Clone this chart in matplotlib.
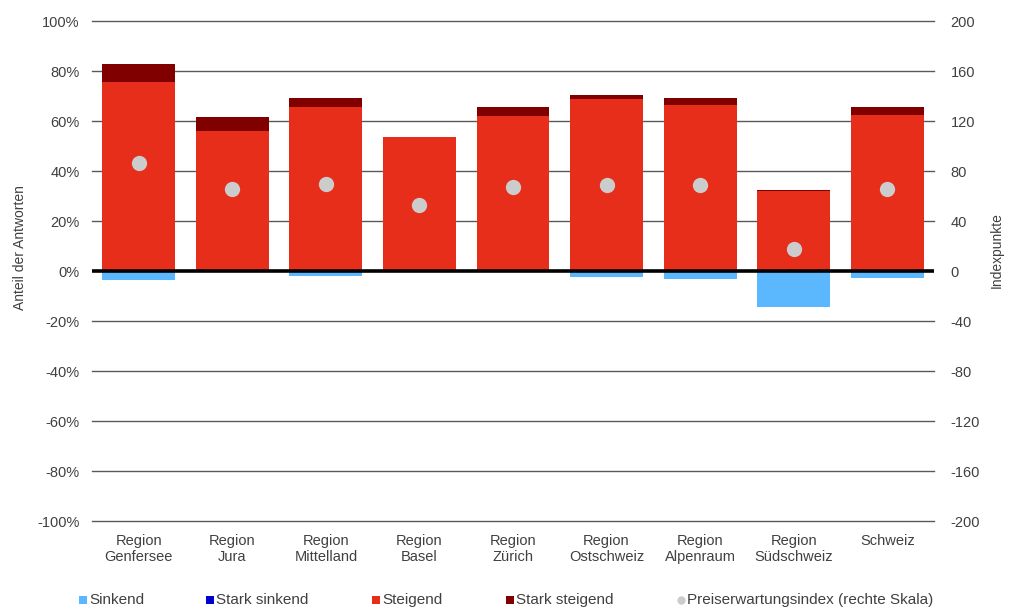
import numpy as np
import matplotlib.pyplot as plt
from matplotlib.lines import Line2D

plt.rcParams['font.family'] = ['Liberation Sans', 'DejaVu Sans']
plt.rcParams['axes.unicode_minus'] = False

regionen = ['Region\nGenfersee', 'Region\nJura', 'Region\nMittelland', 'Region\nBasel',
            'Region\nZürich', 'Region\nOstschweiz', 'Region\nAlpenraum', 'Region\nSüdschweiz',
            'Schweiz']
# Anteile in %
sinkend = [3.5, 0.0, 2.0, 0.0, 0.0, 2.4, 3.2, 14.3, 2.8]
stark_sinkend = [0.0, 0.0, 0.0, 0.0, 0.0, 0.0, 0.0, 0.0, 0.0]
steigend = [75.6, 56.1, 65.7, 53.6, 62.0, 68.9, 66.4, 32.2, 62.4]
stark_steigend = [7.4, 5.5, 3.6, 0.3, 3.6, 1.5, 2.9, 0.3, 3.2]
# Preiserwartungsindex (rechte Skala)
index = [86.6, 65.6, 70.1, 53.3, 67.2, 68.8, 68.8, 17.6, 65.6]

c_sink = '#5BB8FF'
c_stark_sink = '#0000CC'
c_steig = '#E62E1B'
c_stark_steig = '#800000'
c_index = '#CCCCCC'
txt = '#404040'

W, H = 1013, 608
fig = plt.figure(figsize=(W / 100, H / 100), dpi=100)
ax = fig.add_axes([92 / W, 1 - 521.3 / H, (934 - 92) / W, 500 / H])

x = np.arange(len(regionen))
w = 0.78
sink = -np.array(sinkend)
ax.bar(x, sink, w, color=c_sink, zorder=2)
ax.bar(x, -np.array(stark_sinkend), w, bottom=sink, color=c_stark_sink, zorder=2)
ax.bar(x, steigend, w, color=c_steig, zorder=2)
ax.bar(x, stark_steigend, w, bottom=steigend, color=c_stark_steig, zorder=2)

ax.set_xlim(-0.5, len(regionen) - 0.5)
ax.set_ylim(-100, 100)
ax.set_yticks(np.arange(-100, 101, 20))
ax.set_yticklabels([f'{v}%' for v in range(-100, 101, 20)])
# Gitterlinien inkl. Rand oben/unten
for v in range(-100, 101, 20):
    if v != 0:
        ax.axhline(v, color='#595959', linewidth=1.0, zorder=0, clip_on=False)
ax.axhline(0, color='black', linewidth=2.6, zorder=4)
for s in ax.spines.values():
    s.set_visible(False)
ax.tick_params(axis='y', length=0, pad=9, labelsize=10.5, labelcolor=txt)
ax.set_xticks(x)
ax.set_xticklabels(regionen, fontsize=10.5, color=txt, va='top', linespacing=1.2)
ax.tick_params(axis='x', length=0, pad=9)

ax2 = ax.twinx()
ax2.set_ylim(-200, 200)
ax2.set_yticks(np.arange(-200, 201, 40))
ax2.plot(x, index, 'o', color=c_index, markersize=11, markeredgewidth=0, zorder=5)
for s in ax2.spines.values():
    s.set_visible(False)
ax2.tick_params(axis='y', length=0, pad=12, labelsize=10.5, labelcolor=txt)

fig.text(20 / W, 1 - 248 / H, 'Anteil der Antworten', rotation=90,
         ha='center', va='center', fontsize=10, color=txt)
fig.text(997 / W, 1 - 250 / H, 'Indexpunkte', rotation=90,
         ha='center', va='center', fontsize=10, color=txt)

# Legende unten, Einträge einzeln gesetzt
legende = [
    ('Sinkend', c_sink, 's', 83),
    ('Stark sinkend', c_stark_sink, 's', 210),
    ('Steigend', c_steig, 's', 376),
    ('Stark steigend', c_stark_steig, 's', 510),
    ('Preiserwartungsindex (rechte Skala)', c_index, 'o', 681),
]
ly = 1 - 600 / H
for label, col, m, px in legende:
    fig.add_artist(Line2D([px / W], [ly], marker=m, linestyle='', color=col,
                          markersize=6, markeredgewidth=0, transform=fig.transFigure))
    fig.text((px + 6) / W, ly, label, ha='left', va='center', fontsize=11, color=txt)

fig.savefig('out.png', dpi=100)
